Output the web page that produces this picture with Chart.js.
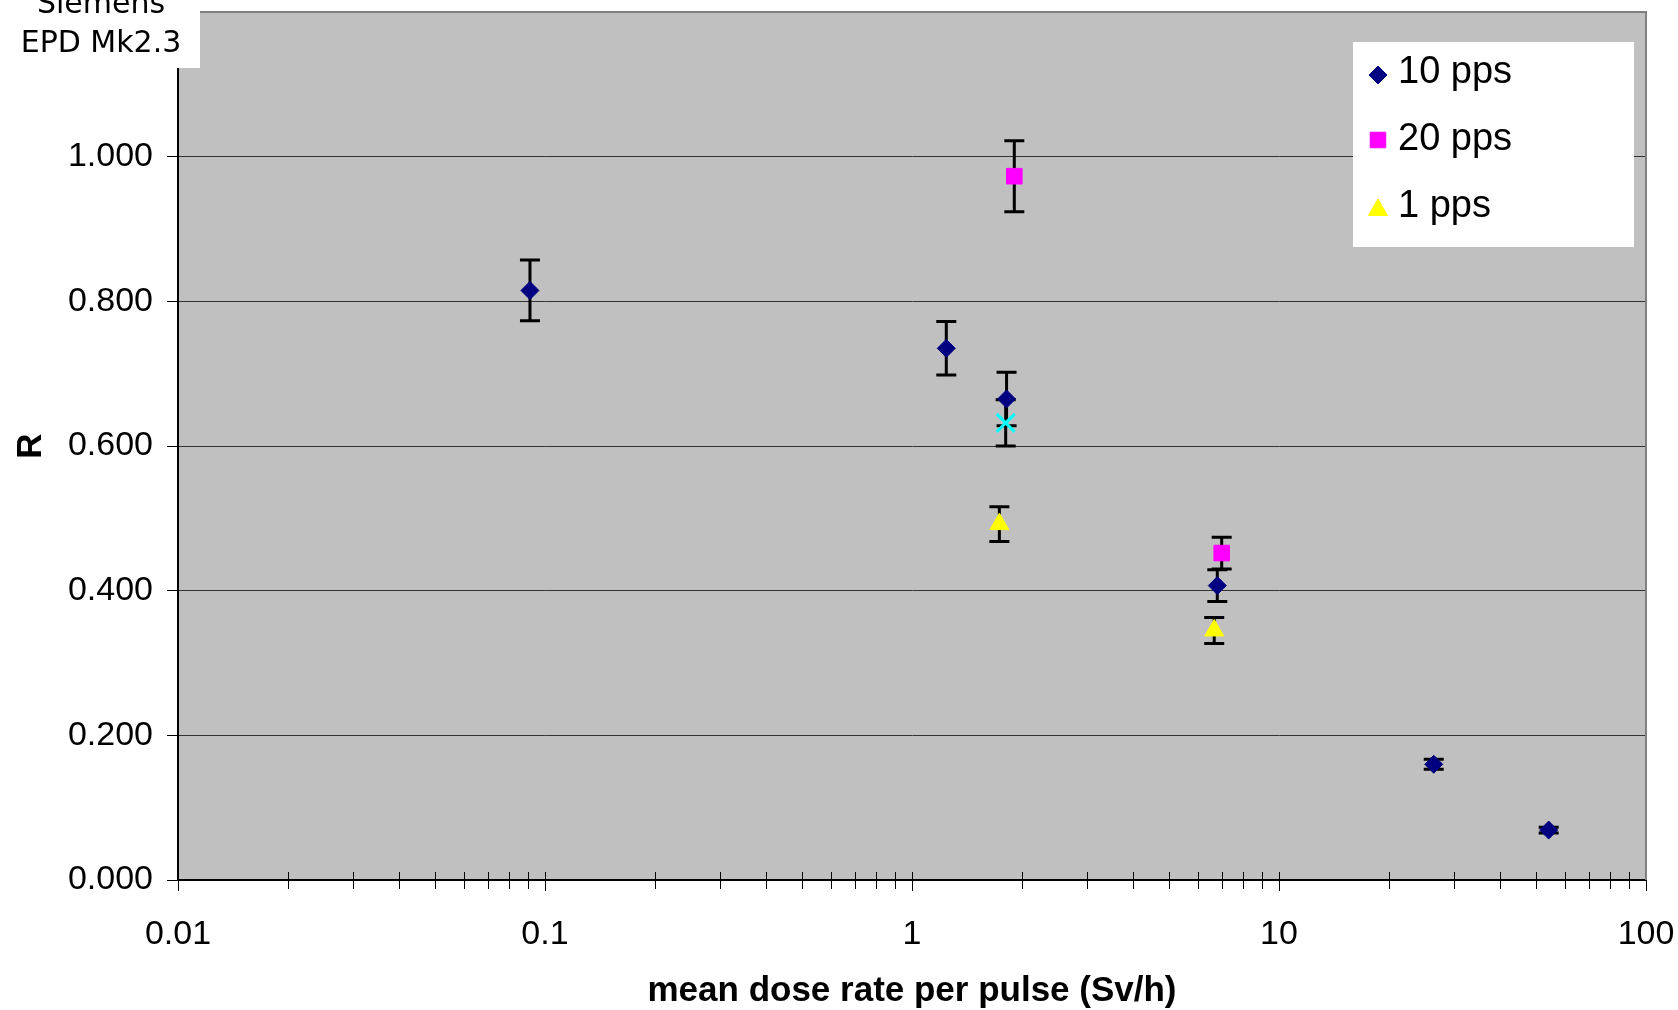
<!DOCTYPE html>
<html>
<head>
<meta charset="utf-8">
<script src="https://cdn.jsdelivr.net/npm/chart.js@4.4.1/dist/chart.umd.min.js"></script>
<style>
  html, body { margin: 0; padding: 0; background: #fff; }
</style>
</head>
<body>
<canvas id="chart" width="1678" height="1010"></canvas>
<script>
// values
const seriesNames = ["10 pps", "20 pps", "1 pps"]

const dose10 = [0.091, 1.24, 1.81, 6.79, 26.4, 54.3]
const r10 = [0.815, 0.735, 0.665, 0.407, 0.160, 0.069]
const err10 = [0.042, 0.037, 0.037, 0.022, 0.007, 0.004]

const dose20 = [1.90, 6.98]
const r20 = [0.973, 0.452]
const err20 = [0.049, 0.022]

const dose1 = [1.73, 6.66]
const r1 = [0.492, 0.345]
const err1 = [0.024, 0.018]

// extra point with no legend entry (cyan cross)
const doseExtra = [1.80]
const rExtra = [0.632]
const errExtra = [0.032]

const xMajorTicks = [0.01, 0.1, 1, 10, 100]
const xTitle = "mean dose rate per pulse (Sv/h)"
const yTitle = "R"
const boxLines = ["Siemens", "EPD Mk2.3"]

const FONT = "'Liberation Sans', Arial, sans-serif"

const xTickValues = []
xMajorTicks.forEach((d, i) => {
  xTickValues.push(d)
  if (i < xMajorTicks.length - 1) {
    for (let m = 2; m <= 9; m++) xTickValues.push(+(m * d).toPrecision(6))
  }
})

const toPoints = (xs, ys) => xs.map((x, i) => ({ x: x, y: ys[i] }))

const bgPlugin = {
  id: "bg",
  beforeDraw(chart) {
    const { ctx, chartArea: a } = chart
    ctx.save()
    ctx.fillStyle = "#ffffff"
    ctx.fillRect(0, 0, chart.width, chart.height)
    ctx.fillStyle = "#c0c0c0"
    ctx.fillRect(a.left, a.top, a.right - a.left, a.bottom - a.top)
    ctx.restore()
  }
}

const errorBars = {
  id: "errorBars",
  beforeDatasetsDraw(chart) {
    const { ctx, scales } = chart
    ctx.save()
    ctx.strokeStyle = "#000"
    ctx.lineWidth = 3
    chart.data.datasets.forEach(ds => {
      if (!ds.errors) return
      ds.data.forEach((p, i) => {
        const e = ds.errors[i]
        const px = scales.x.getPixelForValue(p.x)
        const y1 = scales.y.getPixelForValue(p.y + e)
        const y2 = scales.y.getPixelForValue(p.y - e)
        ctx.beginPath()
        ctx.moveTo(px, y1); ctx.lineTo(px, y2)
        ctx.moveTo(px - 10, y1); ctx.lineTo(px + 10, y1)
        ctx.moveTo(px - 10, y2); ctx.lineTo(px + 10, y2)
        ctx.stroke()
      })
    })
    ctx.restore()
  }
}

const decorations = {
  id: "decorations",
  afterDraw(chart) {
    const { ctx, chartArea: a, scales } = chart
    ctx.save()

    // x tick marks crossing the axis
    ctx.strokeStyle = "#000"
    ctx.lineWidth = 1
    scales.x.ticks.forEach(t => {
      const px = Math.round(scales.x.getPixelForValue(t.value)) + 0.5
      ctx.beginPath()
      ctx.moveTo(px, a.bottom - 8)
      ctx.lineTo(px, a.bottom + (t.major ? 11 : 9))
      ctx.stroke()
    })

    // grey frame on top and right
    ctx.strokeStyle = "#808080"
    ctx.lineWidth = 2
    ctx.beginPath()
    ctx.moveTo(a.left, a.top)
    ctx.lineTo(a.right, a.top)
    ctx.lineTo(a.right, a.bottom)
    ctx.stroke()

    // text box top-left
    ctx.fillStyle = "#fff"
    ctx.fillRect(0, 0, 200, 68)
    ctx.fillStyle = "#000"
    ctx.font = "30px 'DejaVu Sans', Verdana, sans-serif"
    ctx.textAlign = "center"
    ctx.textBaseline = "alphabetic"
    ctx.fillText(boxLines[0], 101, 13)
    ctx.fillText(boxLines[1], 101, 52)

    // legend
    const lx = a.right - 293, ly = 42
    ctx.fillStyle = "#fff"
    ctx.fillRect(lx, ly, 281, 205)
    const markY = [33, 98, 168]
    const textY = [41, 108, 175]
    ctx.font = "38px " + FONT
    ctx.textAlign = "left"
    seriesNames.forEach((name, i) => {
      const ds = chart.data.datasets[i]
      ctx.fillStyle = ds.backgroundColor
      ctx.strokeStyle = ds.borderColor
      ctx.lineWidth = 1
      Chart.helpers.drawPoint(ctx, { pointStyle: ds.pointStyle, radius: ds.pointRadius, rotation: 0, borderWidth: 1 }, lx + 25, ly + markY[i])
      ctx.fillStyle = "#000"
      ctx.fillText(name, lx + 45, ly + textY[i])
    })
    ctx.restore()
  }
}

new Chart(document.getElementById("chart"), {
  type: "scatter",
  data: {
    datasets: [
      {
        label: seriesNames[0],
        data: toPoints(dose10, r10),
        errors: err10,
        pointStyle: "rectRot",
        pointRadius: 9,
        backgroundColor: "#000080",
        borderColor: "#000080",
        borderWidth: 1
      },
      {
        label: seriesNames[1],
        data: toPoints(dose20, r20),
        errors: err20,
        pointStyle: "rect",
        pointRadius: 11,
        backgroundColor: "#ff00ff",
        borderColor: "#ff00ff",
        borderWidth: 1
      },
      {
        label: seriesNames[2],
        data: toPoints(dose1, r1),
        errors: err1,
        pointStyle: "triangle",
        pointRadius: 11,
        backgroundColor: "#ffff00",
        borderColor: "#ffff00",
        borderWidth: 1
      },
      {
        label: "",
        data: toPoints(doseExtra, rExtra),
        errors: errExtra,
        pointStyle: "crossRot",
        pointRadius: 12.7,
        backgroundColor: "#00ffff",
        borderColor: "#00ffff",
        borderWidth: 3
      }
    ]
  },
  options: {
    responsive: false,
    animation: false,
    events: [],
    layout: { autoPadding: false, padding: { top: 12, right: 32, left: 0, bottom: 0 } },
    plugins: {
      legend: { display: false },
      tooltip: { enabled: false }
    },
    scales: {
      x: {
        type: "logarithmic",
        min: 0.01,
        max: 100,
        afterBuildTicks: s => {
          s.ticks = xTickValues.map(v => ({ value: v, major: xMajorTicks.includes(v) }))
        },
        afterFit: s => {
          s.height = 130
          s.paddingLeft = 0
          s.paddingRight = 0
        },
        grid: { display: false },
        border: { display: true, color: "#000", width: 2 },
        ticks: {
          autoSkip: false,
          maxRotation: 0,
          padding: 26,
          color: "#000",
          font: { family: FONT, size: 34 },
          callback: v => xMajorTicks.includes(v) ? String(v) : ""
        },
        title: {
          display: true,
          text: xTitle,
          color: "#000",
          font: { family: FONT, size: 35, weight: "bold", lineHeight: 1 },
          padding: { top: 0, bottom: 1 }
        }
      },
      y: {
        min: 0,
        max: 1.2,
        afterFit: s => {
          s.width = 178
          s.paddingTop = 0
          s.paddingBottom = 0
        },
        grid: {
          color: "#333",
          lineWidth: 1,
          drawTicks: true,
          tickLength: 11,
          tickColor: "#000"
        },
        border: { display: true, color: "#000", width: 2 },
        ticks: {
          stepSize: 0.2,
          padding: 14,
          color: "#000",
          font: { family: FONT, size: 34 },
          callback: v => v.toFixed(3)
        },
        title: {
          display: true,
          text: yTitle,
          color: "#000",
          font: { family: FONT, size: 35, weight: "bold", lineHeight: 1 },
          padding: { top: 14, bottom: 0 }
        }
      }
    }
  },
  plugins: [bgPlugin, errorBars, decorations]
})
</script>
</body>
</html>
